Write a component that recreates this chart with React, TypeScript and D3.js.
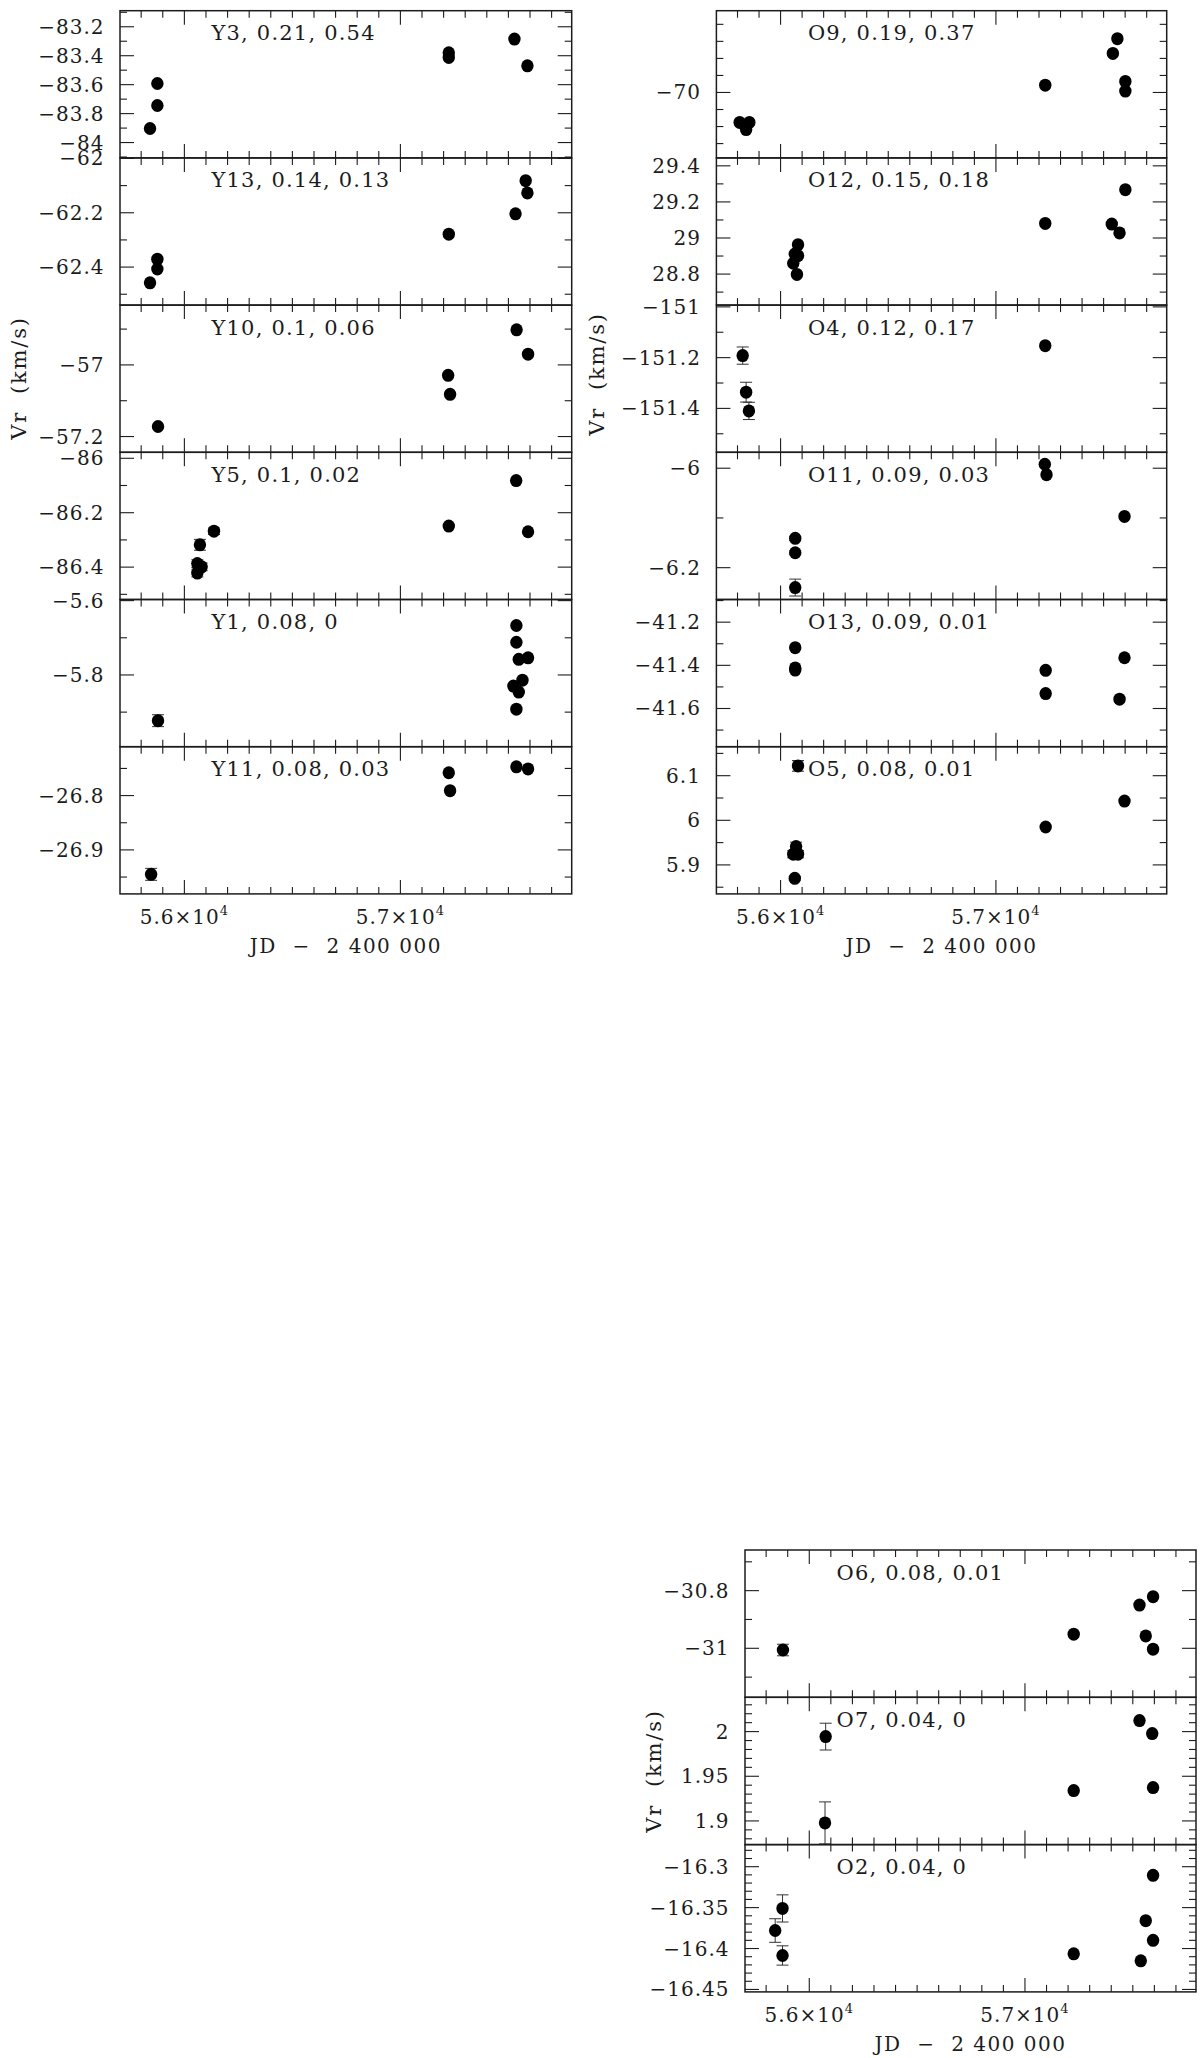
import React from "react";
import * as d3 from "d3";

const FONT = "'DejaVu Serif', serif";
const INK = "#1c1c1c";

// x axis (JD - 2 400 000)
const JD_DOMAIN: [number, number] = [55702, 57793];
const JD_MAJOR = 1000;
const JD_MINOR = 100;

// ---- left column ----
const Y3_JD = [55841, 55875, 55875, 57224, 57224, 57528, 57588];
const Y3_VR = [-83.903, -83.592, -83.744, -83.38, -83.412, -83.285, -83.47];

const Y13_JD = [55841, 55875, 55875, 57224, 57533, 57580, 57588];
const Y13_VR = [-62.458, -62.371, -62.407, -62.279, -62.204, -62.082, -62.127];

const Y10_JD = [55878, 57221, 57230, 57538, 57591];
const Y10_VR = [-57.172, -57.029, -57.082, -56.902, -56.97];

const Y5_JD = [56072, 56137, 56060, 56067, 56080, 56060, 57224, 57536, 57591];
const Y5_VR = [-86.318, -86.268, -86.387, -86.403, -86.399, -86.422, -86.249, -86.082, -86.27];
const Y5_ERR = [0.02, 0.012, 0.014, 0.014, 0.014, 0.014];

const Y1_JD = [55878, 57537, 57537, 57548, 57591, 57565, 57523, 57548, 57537];
const Y1_VR = [-5.923, -5.667, -5.712, -5.758, -5.754, -5.814, -5.83, -5.846, -5.892];
const Y1_ERR = [0.016];

const Y11_JD = [55846, 57224, 57230, 57537, 57591];
const Y11_VR = [-26.945, -26.758, -26.791, -26.747, -26.751];
const Y11_ERR = [0.011];

// ---- right column ----
const O9_JD = [55810, 55855, 55840, 57229, 57543, 57564, 57601, 57601];
const O9_VR = [-70.176, -70.176, -70.218, -69.957, -69.771, -69.684, -69.935, -69.992];

const O12_JD = [56081, 56066, 56081, 56059, 56076, 57229, 57538, 57574, 57601];
const O12_VR = [28.963, 28.911, 28.902, 28.86, 28.798, 29.081, 29.077, 29.028, 29.268];

const O4_JD = [55824, 55840, 55853, 57229];
const O4_VR = [-151.192, -151.336, -151.41, -151.153];
const O4_ERR = [0.034, 0.039, 0.034];

const O11_JD = [56068, 56068, 56068, 57227, 57235, 57597];
const O11_VR = [-6.141, -6.17, -6.24, -5.992, -6.013, -6.097];
const O11_ERR = [0.004, 0.004, 0.017];

const O13_JD = [56068, 56068, 56068, 57231, 57231, 57574, 57597];
const O13_VR = [-41.318, -41.412, -41.422, -41.423, -41.531, -41.557, -41.365];

const O5_JD = [56081, 56072, 56059, 56081, 56066, 57231, 57597];
const O5_VR = [6.122, 5.941, 5.924, 5.924, 5.87, 5.985, 6.043];
const O5_ERR = [0.012, 0.01, 0.008, 0.008, 0.004];

// ---- bottom column ----
const O6_JD = [55878, 57226, 57531, 57560, 57594, 57594];
const O6_VR = [-31.006, -30.951, -30.85, -30.957, -30.821, -31.003];
const O6_ERR = [0.02];

const O7_JD = [56076, 56073, 57226, 57531, 57590, 57594];
const O7_VR = [1.9944, 1.8978, 1.934, 2.0123, 1.9978, 1.9373];
const O7_ERR = [0.015, 0.0235];

const O2_JD = [55842, 55876, 55876, 57226, 57537, 57560, 57594, 57594];
const O2_VR = [-16.378, -16.351, -16.4085, -16.4065, -16.415, -16.366, -16.39, -16.3105];
const O2_ERR = [0.0144, 0.0166, 0.0118];

type Star = {
  label: string;
  jd: number[];
  vr: number[];
  err: number[];
  yDomain: [number, number];
  major: number;
  minor: number;
};

const LEFT_STARS: Star[] = [
  { label: "Y3, 0.21, 0.54", jd: Y3_JD, vr: Y3_VR, err: [], yDomain: [-84.106, -83.089], major: 0.2, minor: 0.1 },
  { label: "Y13, 0.14, 0.13", jd: Y13_JD, vr: Y13_VR, err: [], yDomain: [-62.54, -61.998], major: 0.2, minor: 0.1 },
  { label: "Y10, 0.1, 0.06", jd: Y10_JD, vr: Y10_VR, err: [], yDomain: [-57.244, -56.833], major: 0.2, minor: 0.1 },
  { label: "Y5, 0.1, 0.02", jd: Y5_JD, vr: Y5_VR, err: Y5_ERR, yDomain: [-86.519, -85.978], major: 0.2, minor: 0.1 },
  { label: "Y1, 0.08, 0", jd: Y1_JD, vr: Y1_VR, err: Y1_ERR, yDomain: [-5.993, -5.597], major: 0.2, minor: 0.1 },
  { label: "Y11, 0.08, 0.03", jd: Y11_JD, vr: Y11_VR, err: Y11_ERR, yDomain: [-26.981, -26.71], major: 0.1, minor: 0.05 },
];

const RIGHT_STARS: Star[] = [
  { label: "O9, 0.19, 0.37", jd: O9_JD, vr: O9_VR, err: [], yDomain: [-70.384, -69.52], major: 0.5, minor: 0.1 },
  { label: "O12, 0.15, 0.18", jd: O12_JD, vr: O12_VR, err: [], yDomain: [28.628, 29.444], major: 0.2, minor: 0.1 },
  { label: "O4, 0.12, 0.17", jd: O4_JD, vr: O4_VR, err: O4_ERR, yDomain: [-151.573, -150.993], major: 0.2, minor: 0.1 },
  { label: "O11, 0.09, 0.03", jd: O11_JD, vr: O11_VR, err: O11_ERR, yDomain: [-6.264, -5.968], major: 0.2, minor: 0.1 },
  { label: "O13, 0.09, 0.01", jd: O13_JD, vr: O13_VR, err: [], yDomain: [-41.777, -41.095], major: 0.2, minor: 0.1 },
  { label: "O5, 0.08, 0.01", jd: O5_JD, vr: O5_VR, err: O5_ERR, yDomain: [5.835, 6.165], major: 0.1, minor: 0.05 },
];

const BOTTOM_STARS: Star[] = [
  { label: "O6, 0.08, 0.01", jd: O6_JD, vr: O6_VR, err: O6_ERR, yDomain: [-31.17, -30.659], major: 0.2, minor: 0.1 },
  { label: "O7, 0.04, 0", jd: O7_JD, vr: O7_VR, err: O7_ERR, yDomain: [1.8735, 2.0384], major: 0.05, minor: 0.01 },
  { label: "O2, 0.04, 0", jd: O2_JD, vr: O2_VR, err: O2_ERR, yDomain: [-16.453, -16.273], major: 0.05, minor: 0.01 },
];

const BLOCKS = [
  { stars: LEFT_STARS, x0: 120, x1: 571.7, top: 10.7, ph: 147.2, titleX: 18.5, titleY: 378 },
  { stars: RIGHT_STARS, x0: 716.4, x1: 1166.7, top: 10.7, ph: 147.2, titleX: 597, titleY: 374 },
  { stars: BOTTOM_STARS, x0: 745, x1: 1196, top: 1550, ph: 147.3, titleX: 654, titleY: 1771 },
];

function tickValues(lo: number, hi: number, step: number) {
  const a = Math.ceil(lo / step - 1e-6);
  const b = Math.floor(hi / step + 1e-6);
  return d3.range(a, b + 1).map((k) => +(k * step).toFixed(6));
}

function isMajor(v: number, step: number) {
  const r = v / step;
  return Math.abs(r - Math.round(r)) < 1e-6;
}

const fmt = (v: number) => String(+v.toFixed(4)).replace("-", "\u2212");

function Panel({ star, x, top, bottom, x0, x1 }: any) {
  const y = d3.scaleLinear().domain(star.yDomain).range([bottom, top]);
  const yt = tickValues(star.yDomain[0], star.yDomain[1], star.minor);
  const xt = tickValues(JD_DOMAIN[0], JD_DOMAIN[1], JD_MINOR);
  return (
    <g>
      <g stroke={INK} strokeWidth={1.1}>
        {xt.map((t) => {
          const len = isMajor(t, JD_MAJOR) ? 14 : 7;
          const px = x(t);
          return (
            <g key={"x" + t}>
              <line x1={px} x2={px} y1={top} y2={top + len} />
              <line x1={px} x2={px} y1={bottom} y2={bottom - len} />
            </g>
          );
        })}
        {yt.map((t) => {
          const len = isMajor(t, star.major) ? 14 : 7;
          const py = y(t);
          return (
            <g key={"y" + t}>
              <line x1={x0} x2={x0 + len} y1={py} y2={py} />
              <line x1={x1} x2={x1 - len} y1={py} y2={py} />
            </g>
          );
        })}
      </g>
      <rect x={x0} y={top} width={x1 - x0} height={bottom - top} fill="none" stroke={INK} strokeWidth={1.5} />
      <g fontFamily={FONT} fontSize={20} fill={INK} letterSpacing={1} textAnchor="end">
        {yt
          .filter((t) => isMajor(t, star.major))
          .map((t) => (
            <text key={"l" + t} x={x0 - 15.5} y={y(t) + 7}>
              {fmt(t)}
            </text>
          ))}
      </g>
      <text x={x0 + 91.5} y={top + 29.5} fontFamily={FONT} fontSize={21} letterSpacing={1.2} fill={INK}>
        {star.label}
      </text>
      <g stroke="#333" strokeWidth={1}>
        {star.jd.map((d: number, i: number) => {
          const e = star.err[i] || 0;
          if (!e) return null;
          const px = x(d);
          const ya = y(star.vr[i] + e);
          const yb = y(star.vr[i] - e);
          return (
            <g key={"e" + i}>
              <line x1={px} x2={px} y1={ya} y2={yb} />
              <line x1={px - 6} x2={px + 6} y1={ya} y2={ya} />
              <line x1={px - 6} x2={px + 6} y1={yb} y2={yb} />
            </g>
          );
        })}
      </g>
      <g fill="#000">
        {star.jd.map((d: number, i: number) => (
          <ellipse key={"p" + i} cx={x(d)} cy={y(star.vr[i])} rx={6.2} ry={6.5} />
        ))}
      </g>
    </g>
  );
}

function Block({ block }: any) {
  const { stars, x0, x1, top, ph, titleX, titleY } = block;
  const x = d3.scaleLinear().domain(JD_DOMAIN).range([x0, x1]);
  const bottom = top + ph * stars.length;
  const xLabels = tickValues(JD_DOMAIN[0], JD_DOMAIN[1], JD_MAJOR);
  return (
    <g>
      {stars.map((s: Star, i: number) => (
        <Panel key={s.label} star={s} x={x} top={top + i * ph} bottom={top + (i + 1) * ph} x0={x0} x1={x1} />
      ))}
      <g fontFamily={FONT} fontSize={20} fill={INK} letterSpacing={1} textAnchor="middle">
        {xLabels.map((t) => (
          <text key={t} x={x(t)} y={bottom + 30}>
            {String(t / 1e4)}×10
            <tspan fontSize={13} dy={-9}>4</tspan>
          </text>
        ))}
      </g>
      <text
        x={(x0 + x1) / 2}
        y={bottom + 59}
        fontFamily={FONT}
        fontSize={20}
        letterSpacing={1.5}
        fill={INK}
        textAnchor="middle"
        style={{ whiteSpace: "pre" }}
      >
        {"JD  \u2212  2 400 000"}
      </text>
      <text
        transform={`translate(${titleX},${titleY}) rotate(-90)`}
        fontFamily={FONT}
        fontSize={21}
        letterSpacing={1.8}
        fill={INK}
        textAnchor="middle"
        dominantBaseline="central"
        style={{ whiteSpace: "pre" }}
      >
        {"Vr  (km/s)"}
      </text>
    </g>
  );
}

export default function App() {
  return (
    <svg
      width={1200}
      height={2058}
      viewBox="0 0 1200 2058"
      style={{ position: "absolute", left: 0, top: 0, background: "#fff" }}
    >
      <rect width={1200} height={2058} fill="#fff" />
      {BLOCKS.map((b, i) => (
        <Block key={i} block={b} />
      ))}
    </svg>
  );
}
